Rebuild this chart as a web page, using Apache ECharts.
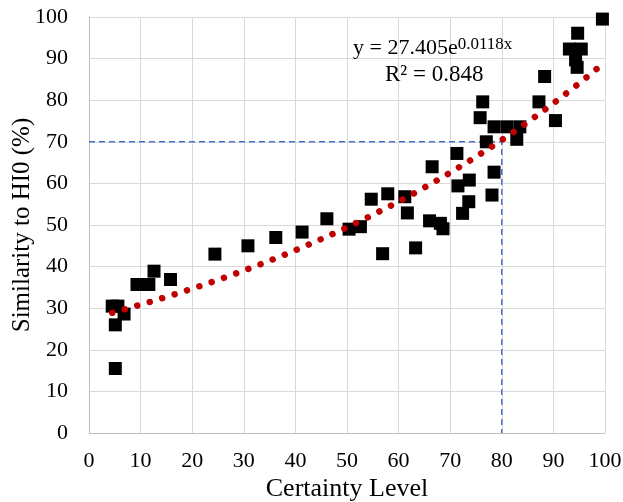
<!DOCTYPE html>
<html>
<head>
<meta charset="utf-8">
<script src="https://cdn.jsdelivr.net/npm/echarts@6/dist/echarts.min.js"></script>
<style>
html,body{margin:0;padding:0;background:#fff;}
#c{width:623px;height:502px;}
</style>
</head>
<body>
<div id="c"></div>
<script>
// Data
var certainty = [4.5, 5.6, 5.1, 6.8, 5.1, 9.3, 11.6, 12.6, 15.8, 24.4, 30.8, 36.2, 41.3, 46.1,
  50.4, 52.6, 54.7, 57.9, 61.2, 61.7, 56.9, 63.3, 66.0, 68.1, 68.6, 66.5, 71.3, 71.5, 73.7, 73.6,
  72.4, 76.3, 75.8, 78.5, 81.0, 83.5, 82.9, 77.0, 78.5, 78.1, 87.2, 88.3, 90.4, 94.6, 99.5,
  94.7, 93.1, 95.4, 94.3];
var similarity = [30.5, 30.5, 26.0, 28.6, 15.5, 35.7, 35.7, 38.9, 36.9, 43.0, 45.0, 47.0, 48.3, 51.5,
  49.0, 49.6, 56.2, 57.5, 56.8, 52.9, 43.1, 44.5, 51.0, 50.4, 49.1, 64.0, 67.2, 59.4, 60.8, 55.6,
  52.8, 79.6, 75.8, 73.6, 73.6, 73.6, 70.6, 70.0, 62.7, 57.2, 79.6, 85.7, 75.1, 87.9, 99.5,
  96.1, 92.3, 92.3, 89.7];
// Trendline as printed on the chart: y = 27.405 e^(0.0118x)
var trendA = 27.405;
var trendB = 0.0118;
var trendLabel = 'y = 27.405e';
var trendExp = '0.0118x';
var r2Label = 'R² = 0.848';
// Reference guide lines (70% similarity at certainty 80)
var guideX = 80;
var guideY = 70;
var xTicks = [0, 100, 10];
var yTicks = [0, 100, 10];

var scatterData = certainty.map(function (x, i) { return [x, similarity[i]]; });
var xMin = Math.min.apply(null, certainty), xMax = Math.max.apply(null, certainty);
var trendData = [];
for (var k = 0; k <= 200; k++) {
  var x = xMin + (xMax - xMin) * k / 200;
  trendData.push([x, trendA * Math.exp(trendB * x)]);
}
var guideData = [[xTicks[0], guideY], [guideX, guideY], [guideX, yTicks[0]]];

var FONT = 'Liberation Serif, Times New Roman, serif';
var chart = echarts.init(document.getElementById('c'), null, {renderer: 'canvas'});
chart.setOption({
  animation: false,
  backgroundColor: '#fff',
  grid: {left: 89, right: 18, top: 17, bottom: 69, containLabel: false, outerBoundsMode: 'none'},
  xAxis: {
    type: 'value', min: xTicks[0], max: xTicks[1], interval: xTicks[2],
    name: 'Certainty Level', nameLocation: 'middle', nameGap: 43, nameMoveOverlap: false,
    nameTextStyle: {fontFamily: FONT, fontSize: 26, color: '#000'},
    axisLine: {show: true, lineStyle: {color: '#bfbfbf', width: 1}},
    axisTick: {show: false},
    axisLabel: {fontFamily: FONT, fontSize: 22, color: '#000', margin: 17},
    splitLine: {show: true, lineStyle: {color: '#d9d9d9', width: 1}}
  },
  yAxis: {
    type: 'value', min: yTicks[0], max: yTicks[1], interval: yTicks[2],
    name: 'Similarity to HI0 (%)', nameLocation: 'middle', nameGap: 54, nameRotate: 90,
    nameMoveOverlap: false,
    nameTextStyle: {fontFamily: FONT, fontSize: 25, color: '#000'},
    axisLine: {show: true, lineStyle: {color: '#bfbfbf', width: 1}},
    axisTick: {show: false},
    axisLabel: {fontFamily: FONT, fontSize: 22, color: '#000', margin: 21},
    splitLine: {show: true, lineStyle: {color: '#d9d9d9', width: 1}}
  },
  series: [
    {
      type: 'line', data: guideData, symbol: 'none', z: 1, silent: true,
      lineStyle: {color: '#4472c4', width: 1.5, type: [6, 4]}
    },
    {
      type: 'scatter', data: scatterData, symbol: 'rect', symbolSize: 13, z: 2,
      itemStyle: {color: '#000', opacity: 1}
    },
    {
      type: 'line', data: trendData, symbol: 'none', z: 3, smooth: false,
      lineStyle: {color: '#c00000', width: 6.5, type: [0.01, 13], cap: 'round', join: 'round'}
    }
  ],
  graphic: [
    {type: 'text', left: 353, top: 36, z: 10,
      style: {text: '{a|' + trendLabel + '}{b|' + trendExp + '}', fill: '#000',
        rich: {a: {fontFamily: FONT, fontSize: 22, verticalAlign: 'bottom'},
               b: {fontFamily: FONT, fontSize: 17, verticalAlign: 'bottom', padding: [0, 0, 6, 0]}}}},
    {type: 'text', left: 385, top: 63, z: 10,
      style: {text: r2Label, fill: '#000', font: '23px ' + FONT}}
  ]
});
</script>
</body>
</html>
